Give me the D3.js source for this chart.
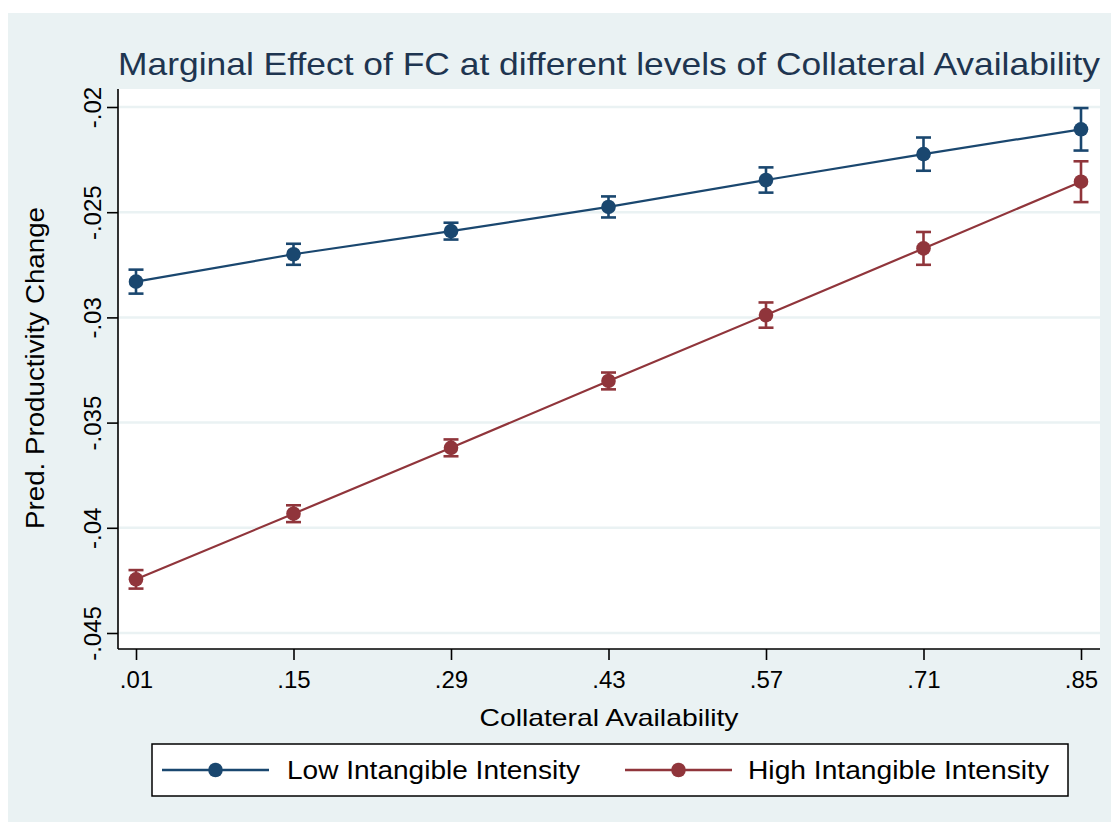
<!DOCTYPE html>
<html>
<head>
<meta charset="utf-8">
<script src="https://cdn.jsdelivr.net/npm/d3@7"></script>
<style>
  html, body { margin: 0; padding: 0; background: #ffffff; }
  svg { display: block; }
  text { font-family: "Liberation Sans", Arial, sans-serif; }
</style>
</head>
<body>
<svg id="chart" width="1111" height="824"></svg>
<script>
// ---- data ----
const xValues = [0.01, 0.15, 0.29, 0.43, 0.57, 0.71, 0.85];
const xTickLabels = [".01", ".15", ".29", ".43", ".57", ".71", ".85"];
const yTicks = [-0.045, -0.04, -0.035, -0.03, -0.025, -0.02];
const yTickLabels = ["-.045", "-.04", "-.035", "-.03", "-.025", "-.02"];

const seriesNames = ["Low Intangible Intensity", "High Intangible Intensity"];
const lowValues = [-0.0283, -0.0270, -0.0259, -0.02475, -0.02347, -0.02224, -0.02106];
const lowLower  = [-0.02887, -0.0275, -0.0263, -0.02525, -0.02407, -0.02303, -0.02207];
const lowUpper  = [-0.02773, -0.0265, -0.0255, -0.02425, -0.02287, -0.02145, -0.02005];
const highValues = [-0.04245, -0.03933, -0.0362, -0.03302, -0.02989, -0.02672, -0.02355];
const highLower  = [-0.04289, -0.03973, -0.0366, -0.03342, -0.03049, -0.0275, -0.02452];
const highUpper  = [-0.04201, -0.03893, -0.0358, -0.03262, -0.02929, -0.02594, -0.02258];

const titleText = "Marginal Effect of FC at different levels of Collateral Availability";
const xTitle = "Collateral Availability";
const yTitle = "Pred. Productivity Change";

// ---- layout/style ----
const colors = ["#1a476f", "#90353b"];
const bg = "#eaf2f3";
const plot = { left: 118, right: 1100, top: 89, bottom: 649 };

const svg = d3.select("#chart");

svg.append("rect").attr("x", 8).attr("y", 13).attr("width", 1103).attr("height", 809).attr("fill", bg);
svg.append("rect").attr("x", plot.left).attr("y", plot.top)
  .attr("width", plot.right - plot.left).attr("height", plot.bottom - plot.top).attr("fill", "#ffffff");

const x = d3.scaleLinear().domain([0.01, 0.85]).range([136, 1081]);
const y = d3.scaleLinear().domain([-0.045, -0.02]).range([633, 107]);

// gridlines
svg.append("g").selectAll("line").data(yTicks).join("line")
  .attr("x1", plot.left).attr("x2", plot.right)
  .attr("y1", d => y(d)).attr("y2", d => y(d))
  .attr("stroke", bg).attr("stroke-width", 2.5);

// y axis
const yAxis = d3.axisLeft(y).tickValues(yTicks).tickSize(11).tickPadding(7)
  .tickFormat((d, i) => yTickLabels[i]);
const gy = svg.append("g").attr("transform", `translate(${plot.left},0)`).call(yAxis);
gy.select(".domain").attr("d", `M0,${plot.top}V${plot.bottom}`).attr("stroke", "#000").attr("stroke-width", 1.6);
gy.selectAll(".tick line").attr("stroke", "#000").attr("stroke-width", 1.6);
gy.selectAll(".tick text")
  .attr("x", null).attr("dy", null)
  .attr("transform", "translate(-17,0) rotate(-90)")
  .attr("text-anchor", "middle")
  .attr("y", 0)
  .attr("font-size", 24).attr("fill", "#000");

// x axis
const xAxis = d3.axisBottom(x).tickValues(xValues).tickSize(11).tickPadding(6)
  .tickFormat((d, i) => xTickLabels[i]);
const gx = svg.append("g").attr("transform", `translate(0,${plot.bottom})`).call(xAxis);
gx.select(".domain").attr("d", `M${plot.left},0H${plot.right}`).attr("stroke", "#000").attr("stroke-width", 1.6);
gx.selectAll(".tick line").attr("stroke", "#000").attr("stroke-width", 1.6);
gx.selectAll(".tick text").attr("dy", null).attr("y", 39).attr("font-size", 24).attr("fill", "#000");

// series
const series = [
  { name: seriesNames[0], vals: lowValues, lo: lowLower, hi: lowUpper, color: colors[0] },
  { name: seriesNames[1], vals: highValues, lo: highLower, hi: highUpper, color: colors[1] }
];
const line = d3.line().x((d, i) => x(xValues[i])).y(d => y(d));
series.forEach(s => {
  const g = svg.append("g");
  g.append("path").attr("d", line(s.vals)).attr("fill", "none").attr("stroke", s.color).attr("stroke-width", 2.2);
  const eb = g.selectAll(".eb").data(s.vals).join("g");
  eb.append("line")
    .attr("x1", (d, i) => x(xValues[i])).attr("x2", (d, i) => x(xValues[i]))
    .attr("y1", (d, i) => y(s.lo[i])).attr("y2", (d, i) => y(s.hi[i]))
    .attr("stroke", s.color).attr("stroke-width", 2.6);
  ["lo", "hi"].forEach(k => {
    eb.append("line")
      .attr("x1", (d, i) => x(xValues[i]) - 7.5).attr("x2", (d, i) => x(xValues[i]) + 7.5)
      .attr("y1", (d, i) => y(s[k][i])).attr("y2", (d, i) => y(s[k][i]))
      .attr("stroke", s.color).attr("stroke-width", 2.6);
  });
  eb.append("circle")
    .attr("cx", (d, i) => x(xValues[i])).attr("cy", d => y(d)).attr("r", 7.3)
    .attr("fill", s.color);
});

// title
svg.append("text").attr("x", 609).attr("y", 75).attr("text-anchor", "middle")
  .attr("font-size", 32).attr("fill", "#1e3550")
  .attr("textLength", 982).attr("lengthAdjust", "spacingAndGlyphs")
  .text(titleText);

// axis titles
svg.append("text").attr("x", 609).attr("y", 726).attr("text-anchor", "middle")
  .attr("font-size", 24).attr("fill", "#000")
  .attr("textLength", 259).attr("lengthAdjust", "spacingAndGlyphs")
  .text(xTitle);
svg.append("text").attr("transform", "translate(44,368) rotate(-90)").attr("text-anchor", "middle")
  .attr("font-size", 25).attr("fill", "#000")
  .attr("textLength", 322).attr("lengthAdjust", "spacingAndGlyphs")
  .text(yTitle);

// legend
const legend = svg.append("g");
legend.append("rect").attr("x", 152).attr("y", 744).attr("width", 916).attr("height", 52)
  .attr("fill", "#ffffff").attr("stroke", "#000").attr("stroke-width", 1.5);
const legItems = [
  { x0: 162, x1: 269, tx: 287, tl: 293 },
  { x0: 625, x1: 732, tx: 748, tl: 301 }
];
legItems.forEach((it, i) => {
  legend.append("line").attr("x1", it.x0).attr("x2", it.x1).attr("y1", 770).attr("y2", 770)
    .attr("stroke", colors[i]).attr("stroke-width", 2.6);
  legend.append("circle").attr("cx", (it.x0 + it.x1) / 2).attr("cy", 770).attr("r", 7.3).attr("fill", colors[i]);
  legend.append("text").attr("x", it.tx).attr("y", 779).attr("font-size", 25).attr("fill", "#000")
    .attr("textLength", it.tl).attr("lengthAdjust", "spacingAndGlyphs")
    .text(seriesNames[i]);
});
</script>
</body>
</html>
